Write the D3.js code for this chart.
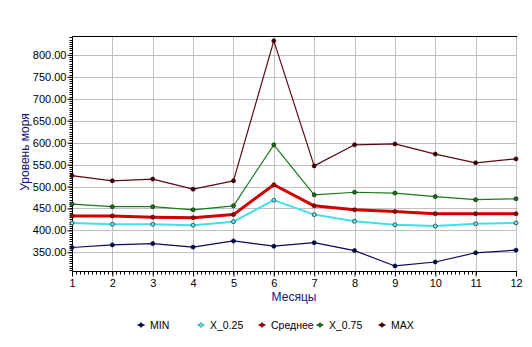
<!DOCTYPE html>
<html>
<head>
<meta charset="utf-8">
<script src="https://cdn.jsdelivr.net/npm/d3@7"></script>
<style>
  html, body { margin: 0; padding: 0; background: #fff; }
  svg { display: block; font-family: "Liberation Sans", Arial, sans-serif; }
</style>
</head>
<body>
<svg id="chart" width="532" height="347"></svg>
<script>
// Monthly sea level statistics
const months = [1, 2, 3, 4, 5, 6, 7, 8, 9, 10, 11, 12];
const minVals  = [361, 367, 370, 362, 376, 364, 372, 354, 319, 328, 349, 355];
const q25Vals  = [417, 414, 414, 412, 420, 469, 436, 421, 413, 410, 415, 417];
const meanVals = [433, 433, 430, 429, 436, 504, 456, 447, 443, 438, 438, 438];
const q75Vals  = [460, 454, 454, 447, 456, 595, 481, 487, 485, 477, 470, 472];
const maxVals  = [525, 513, 517, 494, 513, 832, 547, 595, 597, 574, 554, 563];
const yTicks = [350, 400, 450, 500, 550, 600, 650, 700, 750, 800];
const seriesNames = ["MIN", "X_0.25", "Среднее", "X_0.75", "MAX"];

const series = [
  { name: seriesNames[0], values: minVals,  color: "#0a0a5a", width: 1.2, marker: "#0a0a40", fill: "#0a0a40" },
  { name: seriesNames[1], values: q25Vals,  color: "#40e0e8", width: 2,   marker: "#1a3a3a", fill: "#60e8f0" },
  { name: seriesNames[2], values: meanVals, color: "#d00000", width: 3,   marker: "#4a0a0a", fill: "#a00000" },
  { name: seriesNames[3], values: q75Vals,  color: "#1a7a1a", width: 1.2, marker: "#0a300a", fill: "#207020" },
  { name: seriesNames[4], values: maxVals,  color: "#5a0a14", width: 1.2, marker: "#3a0008", fill: "#3a0008" }
];

const svg = d3.select("#chart");
const plotLeft = 72, plotRight = 516, plotTop = 36, plotBottom = 271;

const x = d3.scaleLinear().domain([1, 12]).range([plotLeft, plotRight]);
const y = d3.scaleLinear().domain([307.5, 843]).range([plotBottom, plotTop]);

// grid
const grid = svg.append("g").attr("stroke", "#c0c0c0").attr("stroke-width", 1);
grid.selectAll("line.h").data(yTicks).join("line")
  .attr("x1", plotLeft).attr("x2", plotRight)
  .attr("y1", d => Math.round(y(d)) + 0.5).attr("y2", d => Math.round(y(d)) + 0.5);
grid.selectAll("line.v").data(months.slice(1)).join("line")
  .attr("y1", plotTop).attr("y2", plotBottom)
  .attr("x1", d => Math.round(x(d)) + 0.5).attr("x2", d => Math.round(x(d)) + 0.5);

// frame (top edge)
svg.append("line").attr("x1", plotLeft).attr("x2", plotRight + 1)
  .attr("y1", plotTop + 0.5).attr("y2", plotTop + 0.5).attr("stroke", "#000");

// y axis
const yMinor = d3.range(310, 845, 5);
const yAxis = svg.append("g").attr("transform", `translate(${plotLeft + 0.5},0)`);
yAxis.selectAll("line.minor").data(yMinor).join("line")
  .attr("x1", -3).attr("x2", 0)
  .attr("y1", d => Math.round(y(d)) + 0.5).attr("y2", d => Math.round(y(d)) + 0.5)
  .attr("stroke", "#000");
yAxis.call(d3.axisLeft(y).tickValues(yTicks).tickFormat(d3.format(".2f")).tickSize(5).tickPadding(1))
  .call(g => g.select(".domain").remove())
  .call(g => g.selectAll("text").attr("font-size", 11).attr("fill", "#000").attr("font-family", "Liberation Sans, Arial, sans-serif"));
svg.append("line").attr("x1", plotLeft + 0.5).attr("x2", plotLeft + 0.5)
  .attr("y1", plotTop).attr("y2", plotBottom + 1).attr("stroke", "#000");

// x axis
const xMinor = d3.range(10, 111).map(d => d / 10);
const xAxis = svg.append("g").attr("transform", `translate(0,${plotBottom + 0.5})`);
xAxis.selectAll("line.minor").data(xMinor).join("line")
  .attr("y1", 0).attr("y2", 3)
  .attr("x1", d => Math.round(x(d)) + 0.5).attr("x2", d => Math.round(x(d)) + 0.5)
  .attr("stroke", "#000");
xAxis.call(d3.axisBottom(x).tickValues(months).tickFormat(d3.format("d")).tickSize(5).tickPadding(3))
  .call(g => g.select(".domain").remove())
  .call(g => g.selectAll("text").attr("font-size", 11).attr("fill", "#000").attr("font-family", "Liberation Sans, Arial, sans-serif"));
svg.append("line").attr("x1", plotLeft).attr("x2", plotRight + 1)
  .attr("y1", plotBottom + 0.5).attr("y2", plotBottom + 0.5).attr("stroke", "#000");

// axis titles
svg.append("text").attr("x", (plotLeft + plotRight) / 2).attr("y", 301)
  .attr("text-anchor", "middle").attr("font-size", 12).attr("fill", "#141470").text("Месяцы");
svg.append("text").attr("transform", "translate(29,152) rotate(-90)")
  .attr("text-anchor", "middle").attr("font-size", 12).attr("fill", "#141470").text("Уровень моря");

// lines and markers
const line = d3.line().x((d, i) => x(months[i])).y(d => y(d));
const plot = svg.append("g");
series.forEach(s => {
  plot.append("path").datum(s.values)
    .attr("fill", "none").attr("stroke", s.color).attr("stroke-width", s.width)
    .attr("stroke-linejoin", "round").attr("d", line);
});
series.forEach(s => {
  plot.selectAll(null).data(s.values).join("circle")
    .attr("cx", (d, i) => x(months[i])).attr("cy", d => y(d)).attr("r", 2)
    .attr("fill", s.fill).attr("stroke", s.marker).attr("stroke-width", 0.8);
});

// legend
const legendX = [141, 201, 262, 320, 382];
const legend = svg.append("g");
series.forEach((s, i) => {
  const g = legend.append("g").attr("transform", `translate(${legendX[i]},325)`);
  g.append("line").attr("x1", -3.5).attr("x2", 3.5).attr("y1", 0).attr("y2", 0)
    .attr("stroke", s.color).attr("stroke-width", 1.5);
  g.append("path").attr("d", "M0,-2.5L2.5,0L0,2.5L-2.5,0Z").attr("fill", s.fill).attr("stroke", s.marker).attr("stroke-width", 0.6);
  g.append("text").attr("x", 9).attr("y", 4).attr("font-size", 10.5).attr("fill", "#000").text(s.name);
});
</script>
</body>
</html>
